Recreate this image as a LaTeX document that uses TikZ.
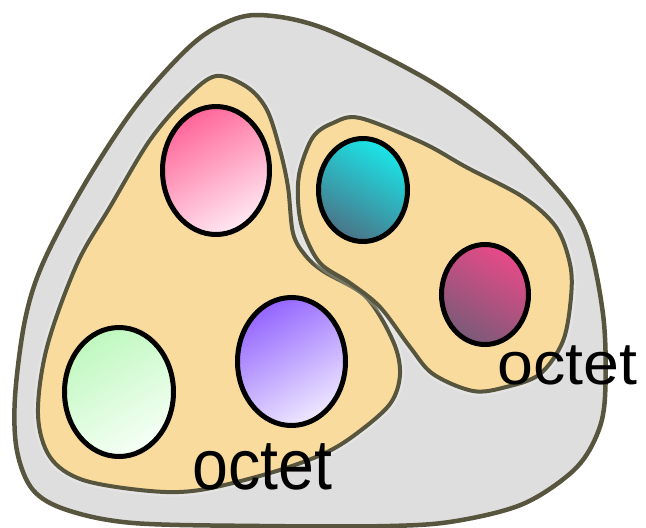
\documentclass[tikz,border=0pt]{standalone}
\usepackage{fontspec}
\setmainfont{Liberation Sans}
\usetikzlibrary{shapes.geometric}
\definecolor{outl}{HTML}{57553D}
\definecolor{grayfill}{HTML}{DEDEDE}
\definecolor{tanfill}{HTML}{F9DC9D}
\definecolor{pinkA}{HTML}{FF6699}
\definecolor{pinkB}{HTML}{FFE8F2}
\definecolor{cyanA}{HTML}{1AE5E8}
\definecolor{cyanB}{HTML}{4A7488}
\definecolor{magA}{HTML}{E84A88}
\definecolor{magB}{HTML}{7A5A78}
\definecolor{greenA}{HTML}{BFF8BF}
\definecolor{greenB}{HTML}{F6FFF6}
\definecolor{purpA}{HTML}{9466FF}
\definecolor{purpB}{HTML}{EEE8FF}
\tikzset{
  blobouter/.style={fill=grayfill, draw=outl, line width=4.5pt},
  blobinner/.style={fill=tanfill, draw=outl, line width=4pt,
     preaction={draw=white, draw opacity=0.2, line width=9pt}},
  atom/.style={ellipse, draw=black, line width=5pt, inner sep=0pt},
  lbl/.style={inner sep=0pt, anchor=base west, font=\fontsize{64.5}{70}\selectfont},
}
\begin{document}
\begin{tikzpicture}[x=1pt,y=-1pt]
\useasboundingbox (0,0) rectangle (646,528);
% outer blob
\draw[blobouter] plot[smooth cycle, tension=0.55] coordinates {
 (257,15) (323,28) (423,77) (490,123) (540,170) (583,227) (603,314) (605,397)
 (596,437) (573,471) (523,504) (456,521) (390,526) (260,526) (133,523) (67,510)
 (33,490) (17,451) (15,397) (25,320) (43,263) (83,187) (133,110) (183,53) (217,27)};
% left inner blob
\draw[blobinner] plot[smooth cycle, tension=0.55] coordinates {
 (216,76) (247,87) (267,110) (280,150) (288,187) (293,233) (305,255) (323,271)
 (366,297) (393,341) (400,374) (390,404) (356,434) (323,454) (270,473) (200,490)
 (150,491) (83,480) (50,457) (38,414) (47,347) (77,264) (110,207) (150,140) (187,97)};
% right inner blob
\draw[blobinner] plot[smooth cycle, tension=0.55] coordinates {
 (360,118) (423,143) (466,167) (523,197) (556,227) (570,264) (571,297) (563,341)
 (540,374) (506,387) (473,391) (433,374) (410,347) (380,307) (350,283) (320,263)
 (303,230) (298,200) (300,170) (313,137) (333,123)};
% atoms
\node[atom, minimum width=107pt, minimum height=128pt, shade, top color=pinkA, bottom color=pinkB, shading angle=30] (pink) at (216,170.5) {};
\node[atom, minimum width=89pt, minimum height=103pt, shade, top color=cyanA, bottom color=cyanB, shading angle=-30] (cyan) at (363,190) {};
\node[atom, minimum width=87pt, minimum height=100pt, shade, top color=magA, bottom color=magB, shading angle=-30] (mag) at (485,294.5) {};
\node[atom, minimum width=109pt, minimum height=129pt, shade, top color=greenA, bottom color=greenB, shading angle=30] (green) at (119,392) {};
\node[atom, minimum width=108pt, minimum height=128pt, shade, top color=purpA, bottom color=purpB, shading angle=30] (purp) at (291.5,361.5) {};
% labels
\node[lbl, yscale=1.1] (octL) at (192.5,489) {octet};
\node[lbl, yscale=0.93] (octR) at (497.5,384) {octet};
\end{tikzpicture}
\end{document}
